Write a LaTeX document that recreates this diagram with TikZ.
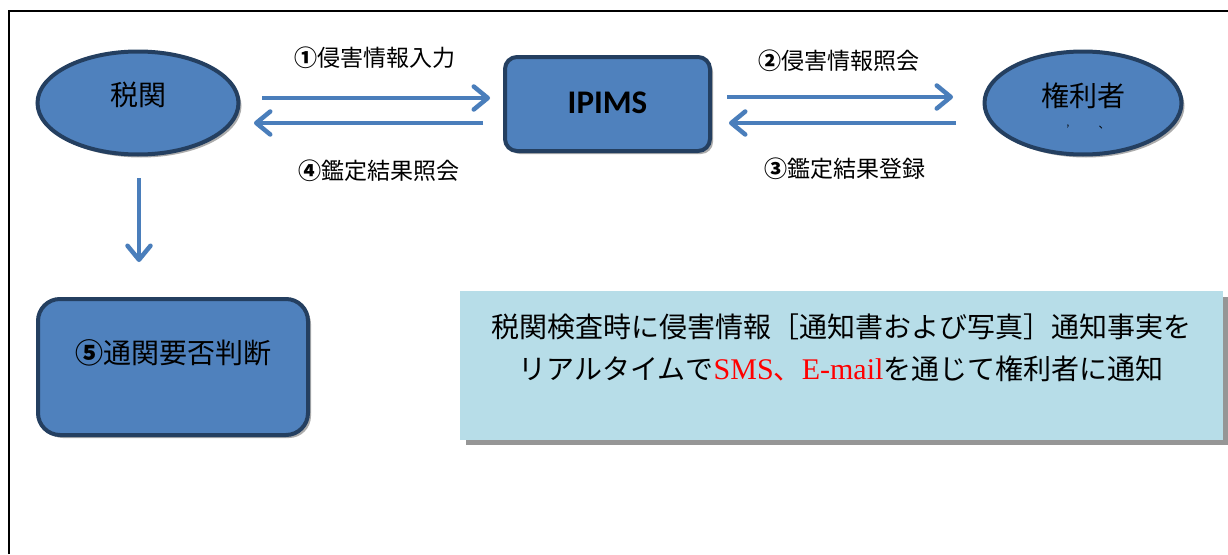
\documentclass[tikz,border=0pt]{standalone}
\usepackage{fontspec}
\setmainfont{Liberation Serif}
\newfontfamily\jpfont{Noto Sans CJK JP}
\newfontfamily\calfont{Carlito}
\usetikzlibrary{shapes.geometric,arrows.meta,shadows,calc}
\definecolor{fillblue}{HTML}{4F81BD}
\definecolor{edgeblue}{HTML}{243F60}
\definecolor{arrowblue}{HTML}{4A7EBB}
\definecolor{lightbox}{HTML}{B7DDE8}
\definecolor{shadowgray}{HTML}{969696}
\definecolor{redtext}{HTML}{FF0000}
\begin{document}
\begin{tikzpicture}[x=1pt,y=-1pt,
  shapeshadow/.style={drop shadow={shadow xshift=3pt,shadow yshift=-3pt,fill=gray!65,opacity=1}},
  oval/.style={ellipse,draw=edgeblue,fill=fillblue,line width=4pt,inner sep=0pt,shapeshadow},
  rbox/.style={rectangle,rounded corners=#1,draw=edgeblue,fill=fillblue,line width=4pt,inner sep=0pt,shapeshadow},
  arr/.style={draw=arrowblue,line width=4.5pt,-{Straight Barb[length=14pt,width=23pt,round]}},
  lbl/.style={font=\jpfont\fontsize{23}{26}\selectfont,inner sep=0pt},
  big/.style={font=\jpfont\fontsize{28}{32}\selectfont,inner sep=0pt}
]
\useasboundingbox (0,0) rectangle (1228,554);
\fill[white] (0,0) rectangle (1228,554);
% frame
\draw[line width=2.5pt] (9,554) -- (9,11) -- (1229,11);

% nodes
\node[oval,minimum width=201pt,minimum height=103pt,
  label={[big,yshift=8pt]center:税関}] (zeikan) at (138,103) {};
\node[rbox=12pt,minimum width=205pt,minimum height=94pt,
  font=\calfont\bfseries\fontsize{33}{36}\selectfont] (ipims) at (607.5,104) {\raisebox{2pt}{IPIMS}};
\node[oval,minimum width=197pt,minimum height=103pt,
  label={[big,yshift=7pt]center:権利者}] (kenri) at (1083,103) {};
\node[font=\jpfont\fontsize{11}{11}\selectfont,inner sep=0pt] (mark1) at (1068,129) {’};
\node[font=\jpfont\fontsize{11}{11}\selectfont,inner sep=0pt] (mark2) at (1104,128) {、};

\node[rbox=22pt,minimum width=270pt,minimum height=136pt,
  label={[big,yshift=14pt]center:{\bfseries ⑤}通関要否判断}] (judge) at (173,367) {};

% message box
\fill[shadowgray] (466,297) rectangle (1228,445);
\node[rectangle,fill=lightbox,minimum width=763pt,minimum height=149pt,inner sep=0pt] (msgbox) at (841.5,365.5) {};
\node[font=\jpfont\fontsize{28}{42}\selectfont,align=center,inner sep=0pt] (msg) at (841,348)
  {税関検査時に侵害情報［通知書および写真］通知事実を\\
   リアルタイムで{\color{redtext}\rmfamily\fontsize{30}{42}\selectfont SMS}{\color{redtext}、}{\color{redtext}\rmfamily\fontsize{30}{42}\selectfont E-mail}を通じて権利者に通知};

% labels
\node[lbl] (l1) at (375,58) {{\bfseries ①}侵害情報入力};
\node[lbl] (l4) at (379,171) {{\bfseries ④}鑑定結果照会};
\node[lbl] (l2) at (839,61) {{\bfseries ②}侵害情報照会};
\node[lbl] (l3) at (845,169) {{\bfseries ③}鑑定結果登録};

% arrows
\draw[arr] ($(zeikan.east)+(21.5,-5)$) -- ($(ipims.west)+(-13,-6)$);
\draw[arr] ($(ipims.west)+(-20,19)$) -- ($(zeikan.east)+(13.5,20)$);
\draw[arr] ($(ipims.east)+(15,-7)$) -- ($(kenri.west)+(-29.5,-6)$);
\draw[arr] ($(kenri.west)+(-26.5,20)$) -- ($(ipims.east)+(17,19)$);
\draw[arr] ($(zeikan.south)+(1,21.5)$) -- ($(zeikan.south |- judge.north)+(1,-35)$);
\end{tikzpicture}
\end{document}
